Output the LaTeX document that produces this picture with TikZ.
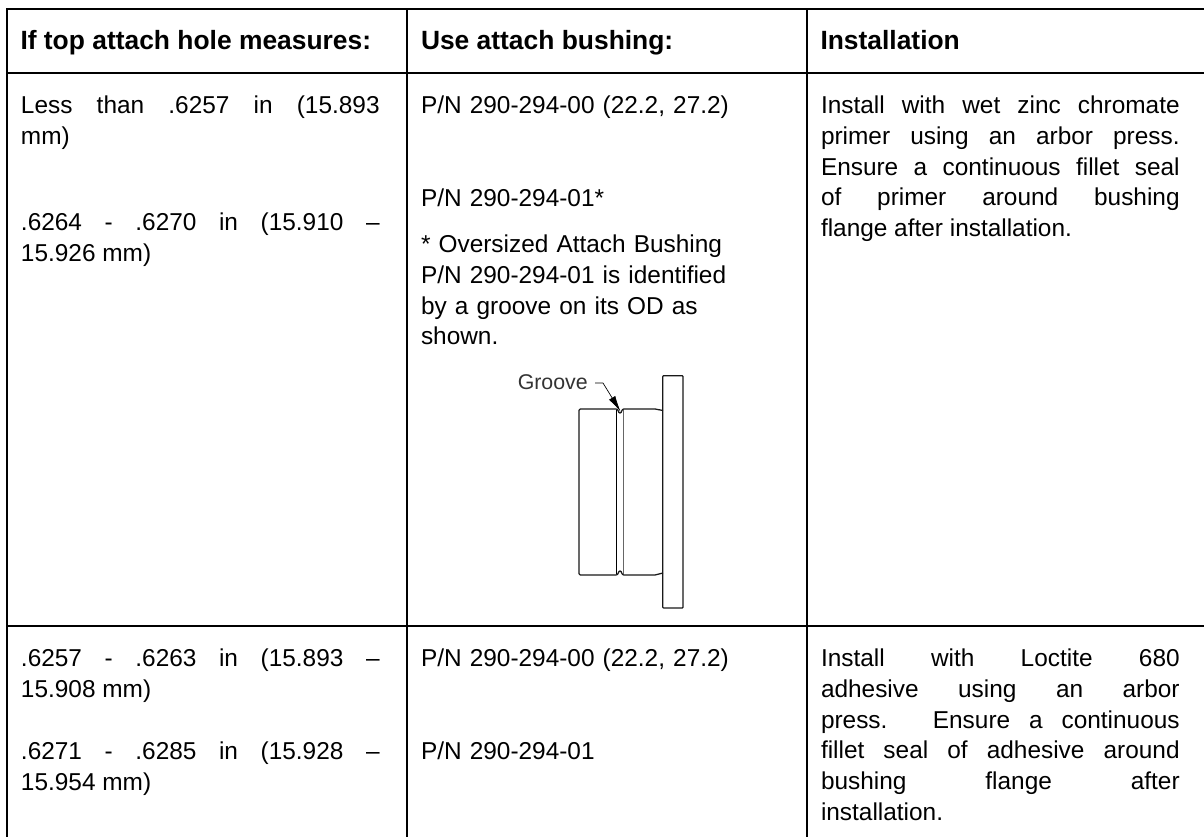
\documentclass[tikz,border=0pt]{standalone}
\usepackage{fontspec}
\setmainfont{Liberation Sans}
\usetikzlibrary{arrows.meta}
\tikzset{
 x=0.75pt,y=-0.75pt,
 rulel/.style={line width=1.5pt,black},
 cell/.style={anchor=north west,inner sep=0pt,outer sep=0pt,font=\fontsize{18.3pt}{23pt}\selectfont,align=justify,text width=269pt},
 leftcell/.style={cell,align=left,text width=290pt},
 head/.style={anchor=base west,inner sep=0pt,outer sep=0pt,font=\fontsize{19.8pt}{23pt}\selectfont\bfseries},
 part/.style={line width=0.95pt,black!90,line join=round},
 thinpart/.style={line width=0.6pt,black},
}
\begin{document}
\begin{tikzpicture}
\useasboundingbox (0,0) rectangle (1204,838);
\fill[white] (0,0) rectangle (1204,838);
\draw[rulel] (6,9) -- (1204,9);
\draw[rulel] (6,72.7) -- (1204,72.7);
\draw[rulel] (6,626) -- (1204,626);
\draw[rulel] (7,9) -- (7,837);
\draw[rulel] (407.3,9) -- (407.3,837);
\draw[rulel] (807,9) -- (807,837);
\node[head] (h1) at (20.5,50) {If top attach hole measures:};
\node[head] (h2) at (421,50) {Use attach bushing:};
\node[head] (h3) at (820.5,50) {Installation};
\node[cell] (a1) at (21,92.5) {\strut Less than .6257 in (15.893\linebreak mm)};
\node[cell] (a2) at (21,209.5) {\strut .6264 - .6270 in (15.910 –\linebreak 15.926 mm)};
\node[leftcell] (b1) at (421,92.5) {\strut P/N 290-294-00 (22.2, 27.2)};
\node[leftcell] (b2) at (421,185.5) {\strut P/N 290-294-01*};
\node[leftcell] (b3) at (421,231.5) {\strut * Oversized Attach Bushing\\P/N 290-294-01 is identified\\by a groove on its OD as\\shown.};
\node[cell] (c1x) at (821,92.5) {\strut Install with wet zinc chromate\linebreak primer using an arbor press.\linebreak Ensure a continuous fillet seal\linebreak of primer around bushing\linebreak flange after installation.};
\node[cell] (a3) at (21,645.5) {\strut .6257 - .6263 in (15.893 –\linebreak 15.908 mm)};
\node[cell] (a4) at (21,738.5) {\strut .6271 - .6285 in (15.928 –\linebreak 15.954 mm)};
\node[leftcell] (b4) at (421,645.5) {\strut P/N 290-294-00 (22.2, 27.2)};
\node[leftcell] (b5) at (421,738.5) {\strut P/N 290-294-01};
\node[cell] (c2x) at (821,645.5) {\strut Install with Loctite 680\linebreak adhesive using an arbor\linebreak press. Ensure a continuous\linebreak fillet seal of adhesive around\linebreak bushing flange after\linebreak installation.};
% bushing
\draw[part,rounded corners=1pt] (616.3,409) -- (579,409) -- (579,575) -- (616.3,575);
\draw[thinpart] (616.3,410) -- (616.3,574);
\draw[line width=0.95pt,black!60] (623.7,410) -- (623.7,574);
\draw[part] (616.3,409) .. controls (618.5,409) and (618,413) .. (620,413) .. controls (622,413) and (621.5,409) .. (623.7,409) -- (655,409) -- (663,410.5);
\draw[part] (616.3,575) .. controls (618.5,575) and (618,571) .. (620,571) .. controls (622,571) and (621.5,575) .. (623.7,575) -- (655,575) -- (663,573);
\draw[part,rounded corners=0.6pt] (662.8,375.7) rectangle (683,608);
\node[anchor=base east,inner sep=0pt,text=black!80,font=\fontsize{16pt}{18pt}\selectfont] (gv) at (588,389) {Groove};
\coordinate (g1) at (595,383);
\coordinate (g2) at (603,383);
\coordinate (g3) at (620.5,411.5);
\draw[line width=0.5pt,-{Latex[length=12pt,width=5.5pt]}] (g1) -- (g2) -- (g3);
\end{tikzpicture}
\end{document}
